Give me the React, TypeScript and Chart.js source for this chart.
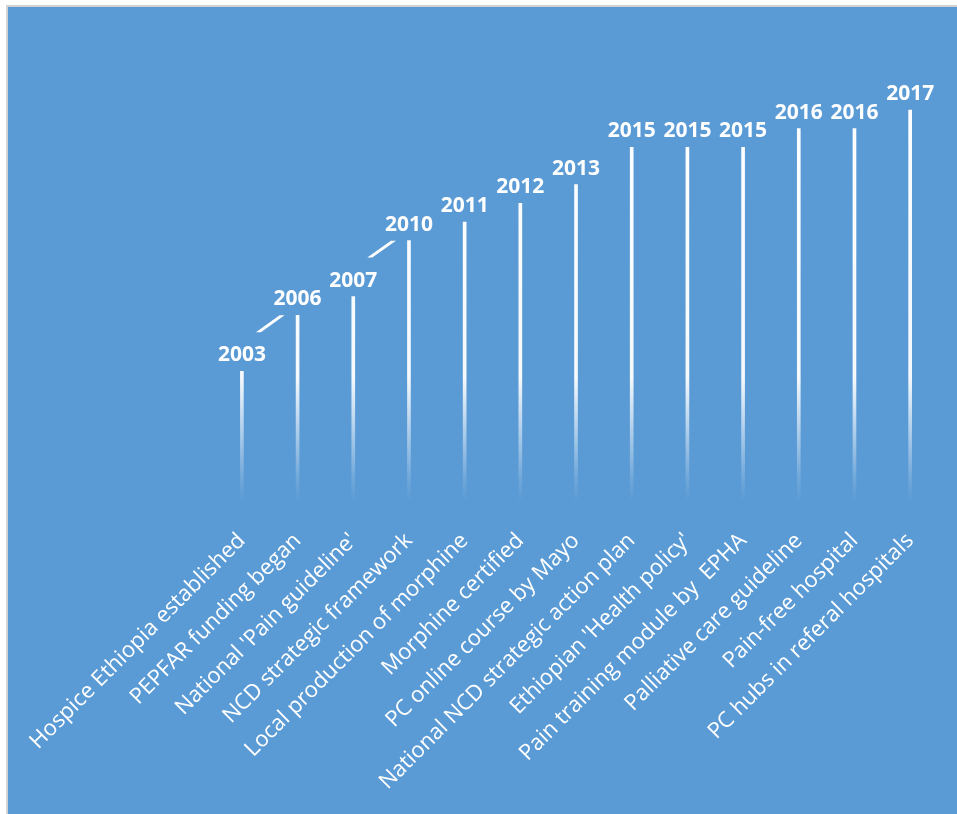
import { useEffect, useRef } from "react";
import { Chart, registerables } from "chart.js";

Chart.register(...registerables);

const events = [
  "Hospice Ethiopia established",
  "PEPFAR funding began",
  "National 'Pain guideline'",
  "NCD strategic framework",
  "Local production of morphine",
  "Morphine certified",
  "PC online course by Mayo",
  "National NCD strategic action plan",
  "Ethiopian 'Health policy'",
  "Pain training module by  EPHA",
  "Palliative care guideline",
  "Pain-free hospital",
  "PC hubs in referal hospitals",
];

const years = [2003, 2006, 2007, 2010, 2011, 2012, 2013, 2015, 2015, 2015, 2016, 2016, 2017];

// label index pairs (i -> i+1) that show a leader line in the original
const leaderLineStarts = [0, 2];

const yearLabelPlugin = {
  id: "yearLabels",
  afterDatasetsDraw(chart: any) {
    const ctx = chart.ctx;
    const meta = chart.getDatasetMeta(0);
    ctx.save();
    ctx.font = "bold 21px 'Open Sans'";
    ctx.fillStyle = "#ffffff";
    ctx.textAlign = "center";
    ctx.textBaseline = "alphabetic";
    meta.data.forEach((bar: any, i: number) => {
      ctx.fillText(String(years[i]), bar.x, bar.y - 10);
    });
    leaderLineStarts.forEach((i) => {
      const a = meta.data[i];
      const b = meta.data[i + 1];
      if (!a || !b) return;
      const sx = a.x + 16;
      const sy = a.y - 39;
      const ex = b.x - 16;
      const ey = b.y;
      ctx.beginPath();
      ctx.moveTo(sx - 2, sy);
      ctx.lineTo(sx + 3, sy);
      ctx.lineTo(ex + 3, ey);
      ctx.lineTo(ex - 2, ey);
      ctx.closePath();
      ctx.fill();
    });
    ctx.restore();
  },
};

export default function App() {
  const ref = useRef<HTMLCanvasElement | null>(null);

  useEffect(() => {
    if (!ref.current) return;
    const chart = new Chart(ref.current, {
      type: "bar",
      data: {
        labels: events,
        datasets: [
          {
            data: years,
            barThickness: 3,
            backgroundColor: (c: any) => {
              const area = c.chart.chartArea;
              if (!area) return "#ffffff";
              const g = c.chart.ctx.createLinearGradient(0, area.bottom, 0, area.top);
              g.addColorStop(0, "rgba(255,255,255,0)");
              g.addColorStop(0.05, "rgba(255,255,255,0.12)");
              g.addColorStop(0.28, "rgba(255,255,255,0.95)");
              g.addColorStop(1, "rgba(255,255,255,1)");
              return g;
            },
            borderWidth: 0,
          },
        ],
      },
      options: {
        responsive: false,
        animation: false,
        layout: { padding: { top: 47, right: 20, left: 206, bottom: 2 } },
        plugins: { legend: { display: false }, tooltip: { enabled: false } },
        scales: {
          x: {
            grid: { display: false },
            border: { display: false },
            ticks: {
              color: "#ffffff",
              font: { family: "'Open Sans'", size: 22 },
              maxRotation: 45,
              minRotation: 45,
              autoSkip: false,
              padding: 18,
            },
          },
          y: {
            display: false,
            min: 1996,
            max: 2020,
          },
        },
      },
      plugins: [yearLabelPlugin],
    });
    return () => chart.destroy();
  }, []);

  return (
    <div
      style={{
        position: "absolute",
        left: 6,
        top: 5,
        width: 950,
        height: 808,
        background: "#5B9BD5",
        borderLeft: "2px solid #D3D3D3",
        borderTop: "2px solid #D3D3D3",
      }}
    >
      <canvas ref={ref} width={950} height={808} style={{ display: "block" }} />
    </div>
  );
}
